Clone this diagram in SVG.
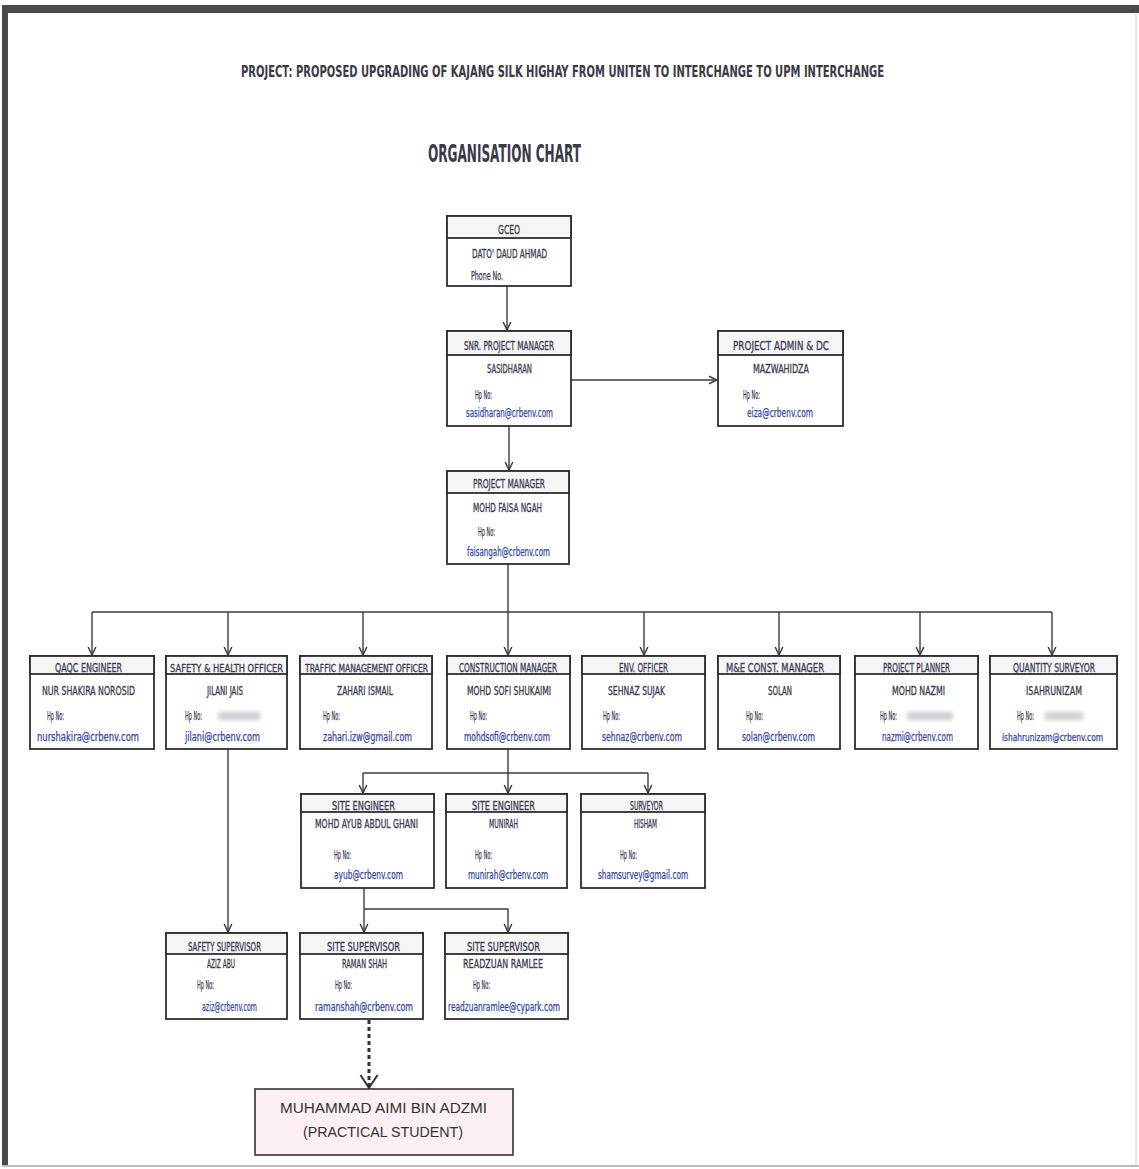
<svg xmlns="http://www.w3.org/2000/svg" width="1139" height="1169" viewBox="0 0 1139 1169">
<defs>
<style>
.box{fill:#ffffff;stroke:#2e2e2e;stroke-width:1.8}
.hd{fill:#f5f5f6;stroke:#2e2e2e;stroke-width:1.8}
text{font-family:"Liberation Sans Narrow","DejaVu Sans Condensed","Liberation Sans",Arial,sans-serif}
.h{font-size:12px;fill:#3b3b52;stroke:#3b3b52;stroke-width:0.3}
.n{font-size:12px;fill:#3b3b52;stroke:#3b3b52;stroke-width:0.3}
.p{font-size:11.5px;fill:#3b3b52;stroke:#3b3b52;stroke-width:0.25}
.e{font-size:11.5px;fill:#3648a4;stroke:#3648a4;stroke-width:0.25}
.ln{fill:none;stroke:#3c3c3c;stroke-width:1.4}
.blob{fill:#cfcfd4;filter:url(#bl)}
</style>
<marker id="ah" markerWidth="10" markerHeight="10" refX="9" refY="5" orient="auto" markerUnits="userSpaceOnUse" viewBox="0 0 10 10">
<path d="M1,1.2 L9,5 L1,8.8" fill="none" stroke="#3c3c3c" stroke-width="1.5"/>
</marker>
<marker id="ah2" markerWidth="16" markerHeight="20" refX="14" refY="10" orient="auto" markerUnits="userSpaceOnUse" viewBox="0 0 16 20">
<path d="M1,1.5 L14,10 L1,18.5" fill="none" stroke="#333" stroke-width="2"/>
</marker>
<filter id="bl" x="-20%" y="-50%" width="140%" height="200%"><feGaussianBlur stdDeviation="2"/></filter>
</defs>

<rect x="0" y="0" width="1139" height="1169" fill="#ffffff"/>
<rect x="2" y="5" width="1137" height="8" fill="#4a4a4c"/>
<rect x="2" y="5" width="6" height="1162" fill="#4a4a4c"/>
<line x1="1136" y1="13" x2="1136" y2="1166" stroke="#e2e2e2" stroke-width="1.5"/>
<line x1="2" y1="1166" x2="1139" y2="1166" stroke="#bdbdbd" stroke-width="2"/>

<text transform="translate(241,77) scale(1,1.45)" font-size="11.5" font-weight="bold" fill="#3a3a48" textLength="643" lengthAdjust="spacingAndGlyphs">PROJECT: PROPOSED UPGRADING OF KAJANG SILK HIGHAY FROM UNITEN TO INTERCHANGE TO UPM INTERCHANGE</text>
<text transform="translate(428,162) scale(1,1.5)" font-size="16" font-weight="bold" fill="#3a3a48" textLength="153" lengthAdjust="spacingAndGlyphs">ORGANISATION CHART</text>

<g id="connectors">
<line class="ln" x1="507" y1="286" x2="507" y2="330" marker-end="url(#ah)"/>
<line class="ln" x1="571" y1="380" x2="717" y2="380" marker-end="url(#ah)"/>
<line class="ln" x1="509" y1="426" x2="509" y2="470" marker-end="url(#ah)"/>
<line class="ln" x1="508" y1="564" x2="508" y2="655" marker-end="url(#ah)"/>
<line class="ln" x1="92" y1="612" x2="1052" y2="612"/>
<line class="ln" x1="92" y1="612" x2="92" y2="655" marker-end="url(#ah)"/>
<line class="ln" x1="228" y1="612" x2="228" y2="655" marker-end="url(#ah)"/>
<line class="ln" x1="363" y1="612" x2="363" y2="655" marker-end="url(#ah)"/>
<line class="ln" x1="644" y1="612" x2="644" y2="655" marker-end="url(#ah)"/>
<line class="ln" x1="779" y1="612" x2="779" y2="655" marker-end="url(#ah)"/>
<line class="ln" x1="920" y1="612" x2="920" y2="655" marker-end="url(#ah)"/>
<line class="ln" x1="1052" y1="612" x2="1052" y2="655" marker-end="url(#ah)"/>
<line class="ln" x1="508" y1="749" x2="508" y2="793" marker-end="url(#ah)"/>
<line class="ln" x1="363" y1="773" x2="648" y2="773"/>
<line class="ln" x1="363" y1="773" x2="363" y2="793" marker-end="url(#ah)"/>
<line class="ln" x1="648" y1="773" x2="648" y2="793" marker-end="url(#ah)"/>
<line class="ln" x1="228" y1="749" x2="228" y2="932" marker-end="url(#ah)"/>
<line class="ln" x1="364" y1="888" x2="364" y2="932" marker-end="url(#ah)"/>
<polyline class="ln" points="364,909 508,909 508,932" marker-end="url(#ah)"/>
<line x1="369" y1="1020" x2="369" y2="1088" stroke="#333" stroke-width="3" stroke-dasharray="4,3" marker-end="url(#ah2)"/>
</g>

<g id="gceo">
<rect class="box" x="447" y="216" width="124" height="70"/>
<rect class="hd" x="447" y="216" width="124" height="22"/>
<text class="h" x="498" y="234" textLength="22" lengthAdjust="spacingAndGlyphs">GCEO</text>
<text class="n" x="472" y="258" textLength="75" lengthAdjust="spacingAndGlyphs">DATO' DAUD AHMAD</text>
<text class="p" x="471" y="280" textLength="32" lengthAdjust="spacingAndGlyphs">Phone No.</text>
</g>

<g id="snr-pm">
<rect class="box" x="447" y="331" width="124" height="95"/>
<rect class="hd" x="447" y="331" width="124" height="24"/>
<text class="h" x="464" y="350" textLength="90" lengthAdjust="spacingAndGlyphs">SNR. PROJECT MANAGER</text>
<text class="n" x="487" y="373" textLength="45" lengthAdjust="spacingAndGlyphs">SASIDHARAN</text>
<text class="p" x="475" y="399" textLength="17" lengthAdjust="spacingAndGlyphs">Hp No:</text>
<text class="e" x="466" y="417" textLength="87" lengthAdjust="spacingAndGlyphs">sasidharan@crbenv.com</text>
</g>

<g id="admin">
<rect class="box" x="718" y="331" width="125" height="95"/>
<rect class="hd" x="718" y="331" width="125" height="24"/>
<text class="h" x="733" y="350" textLength="96" lengthAdjust="spacingAndGlyphs">PROJECT ADMIN &amp; DC</text>
<text class="n" x="753" y="373" textLength="56" lengthAdjust="spacingAndGlyphs">MAZWAHIDZA</text>
<text class="p" x="743" y="399" textLength="17" lengthAdjust="spacingAndGlyphs">Hp No:</text>
<text class="e" x="747" y="417" textLength="66" lengthAdjust="spacingAndGlyphs">eiza@crbenv.com</text>
</g>

<g id="pm">
<rect class="box" x="447" y="471" width="122" height="93"/>
<rect class="hd" x="447" y="471" width="122" height="22"/>
<text class="h" x="473" y="488" textLength="72" lengthAdjust="spacingAndGlyphs">PROJECT MANAGER</text>
<text class="n" x="473" y="512" textLength="69" lengthAdjust="spacingAndGlyphs">MOHD FAISA NGAH</text>
<text class="p" x="478" y="536" textLength="17" lengthAdjust="spacingAndGlyphs">Hp No:</text>
<text class="e" x="467" y="556" textLength="83" lengthAdjust="spacingAndGlyphs">faisangah@crbenv.com</text>
</g>

<g id="qaqc">
<rect class="box" x="30" y="656" width="124" height="93"/>
<rect class="hd" x="30" y="656" width="124" height="18"/>
<text class="h" x="55" y="672" textLength="67" lengthAdjust="spacingAndGlyphs">QAQC ENGINEER</text>
<text class="n" x="42" y="695" textLength="93" lengthAdjust="spacingAndGlyphs">NUR SHAKIRA NOROSID</text>
<text class="p" x="47" y="720" textLength="17" lengthAdjust="spacingAndGlyphs">Hp No:</text>
<text class="e" x="37" y="741" textLength="102" lengthAdjust="spacingAndGlyphs">nurshakira@crbenv.com</text>
</g>

<g id="safety-officer">
<rect class="box" x="166" y="656" width="121" height="93"/>
<rect class="hd" x="166" y="656" width="121" height="18"/>
<text class="h" x="170" y="672" style="font-size:11px" textLength="113" lengthAdjust="spacingAndGlyphs">SAFETY &amp; HEALTH OFFICER</text>
<text class="n" x="207" y="695" textLength="36" lengthAdjust="spacingAndGlyphs">JILANI JAIS</text>
<text class="p" x="185" y="720" textLength="17" lengthAdjust="spacingAndGlyphs">Hp No:</text>
<rect class="blob" x="218" y="712" width="42" height="8"/>
<text class="e" x="185" y="741" textLength="75" lengthAdjust="spacingAndGlyphs">jilani@crbenv.com</text>
</g>

<g id="traffic">
<rect class="box" x="300" y="656" width="132" height="93"/>
<rect class="hd" x="300" y="656" width="132" height="18"/>
<text class="h" x="305" y="672" style="font-size:10.5px" textLength="123" lengthAdjust="spacingAndGlyphs">TRAFFIC MANAGEMENT OFFICER</text>
<text class="n" x="337" y="695" textLength="56" lengthAdjust="spacingAndGlyphs">ZAHARI ISMAIL</text>
<text class="p" x="323" y="720" textLength="17" lengthAdjust="spacingAndGlyphs">Hp No:</text>
<text class="e" x="323" y="741" textLength="89" lengthAdjust="spacingAndGlyphs">zahari.izw@gmail.com</text>
</g>

<g id="construction">
<rect class="box" x="447" y="656" width="123" height="93"/>
<rect class="hd" x="447" y="656" width="123" height="18"/>
<text class="h" x="459" y="672" textLength="98" lengthAdjust="spacingAndGlyphs">CONSTRUCTION MANAGER</text>
<text class="n" x="467" y="695" textLength="84" lengthAdjust="spacingAndGlyphs">MOHD SOFI SHUKAIMI</text>
<text class="p" x="470" y="720" textLength="17" lengthAdjust="spacingAndGlyphs">Hp No:</text>
<text class="e" x="464" y="741" textLength="86" lengthAdjust="spacingAndGlyphs">mohdsofi@crbenv.com</text>
</g>

<g id="env">
<rect class="box" x="582" y="656" width="123" height="93"/>
<rect class="hd" x="582" y="656" width="123" height="18"/>
<text class="h" x="619" y="672" textLength="49" lengthAdjust="spacingAndGlyphs">ENV. OFFICER</text>
<text class="n" x="608" y="695" textLength="57" lengthAdjust="spacingAndGlyphs">SEHNAZ SUJAK</text>
<text class="p" x="603" y="720" textLength="17" lengthAdjust="spacingAndGlyphs">Hp No:</text>
<text class="e" x="602" y="741" textLength="80" lengthAdjust="spacingAndGlyphs">sehnaz@crbenv.com</text>
</g>

<g id="me">
<rect class="box" x="718" y="656" width="122" height="93"/>
<rect class="hd" x="718" y="656" width="122" height="18"/>
<text class="h" x="726" y="672" textLength="98" lengthAdjust="spacingAndGlyphs">M&amp;E CONST. MANAGER</text>
<text class="n" x="768" y="695" textLength="24" lengthAdjust="spacingAndGlyphs">SOLAN</text>
<text class="p" x="746" y="720" textLength="17" lengthAdjust="spacingAndGlyphs">Hp No:</text>
<text class="e" x="742" y="741" textLength="73" lengthAdjust="spacingAndGlyphs">solan@crbenv.com</text>
</g>

<g id="planner">
<rect class="box" x="855" y="656" width="123" height="93"/>
<rect class="hd" x="855" y="656" width="123" height="18"/>
<text class="h" x="883" y="672" textLength="67" lengthAdjust="spacingAndGlyphs">PROJECT PLANNER</text>
<text class="n" x="892" y="695" textLength="53" lengthAdjust="spacingAndGlyphs">MOHD NAZMI</text>
<text class="p" x="880" y="720" textLength="17" lengthAdjust="spacingAndGlyphs">Hp No:</text>
<rect class="blob" x="907" y="712" width="46" height="8"/>
<text class="e" x="882" y="741" textLength="71" lengthAdjust="spacingAndGlyphs">nazmi@crbenv.com</text>
</g>

<g id="qs">
<rect class="box" x="990" y="656" width="127" height="93"/>
<rect class="hd" x="990" y="656" width="127" height="18"/>
<text class="h" x="1013" y="672" textLength="82" lengthAdjust="spacingAndGlyphs">QUANTITY SURVEYOR</text>
<text class="n" x="1026" y="695" textLength="56" lengthAdjust="spacingAndGlyphs">ISAHRUNIZAM</text>
<text class="p" x="1017" y="720" textLength="17" lengthAdjust="spacingAndGlyphs">Hp No:</text>
<rect class="blob" x="1045" y="712" width="38" height="8"/>
<text class="e" x="1002" y="741" style="font-size:10.5px" textLength="101" lengthAdjust="spacingAndGlyphs">ishahrunizam@crbenv.com</text>
</g>

<g id="site-engineer-1">
<rect class="box" x="301" y="794" width="133" height="94"/>
<rect class="hd" x="301" y="794" width="133" height="18"/>
<text class="h" x="332" y="810" textLength="63" lengthAdjust="spacingAndGlyphs">SITE ENGINEER</text>
<text class="n" x="315" y="828" textLength="103" lengthAdjust="spacingAndGlyphs">MOHD AYUB ABDUL GHANI</text>
<text class="p" x="334" y="859" textLength="17" lengthAdjust="spacingAndGlyphs">Hp No:</text>
<text class="e" x="334" y="879" textLength="69" lengthAdjust="spacingAndGlyphs">ayub@crbenv.com</text>
</g>

<g id="site-engineer-2">
<rect class="box" x="446" y="794" width="121" height="94"/>
<rect class="hd" x="446" y="794" width="121" height="18"/>
<text class="h" x="472" y="810" textLength="63" lengthAdjust="spacingAndGlyphs">SITE ENGINEER</text>
<text class="n" x="489" y="828" textLength="29" lengthAdjust="spacingAndGlyphs">MUNIRAH</text>
<text class="p" x="475" y="859" textLength="17" lengthAdjust="spacingAndGlyphs">Hp No:</text>
<text class="e" x="468" y="879" textLength="80" lengthAdjust="spacingAndGlyphs">munirah@crbenv.com</text>
</g>

<g id="surveyor">
<rect class="box" x="581" y="794" width="124" height="94"/>
<rect class="hd" x="581" y="794" width="124" height="18"/>
<text class="h" x="630" y="810" textLength="33" lengthAdjust="spacingAndGlyphs">SURVEYOR</text>
<text class="n" x="634" y="828" textLength="23" lengthAdjust="spacingAndGlyphs">HISHAM</text>
<text class="p" x="620" y="859" textLength="17" lengthAdjust="spacingAndGlyphs">Hp No:</text>
<text class="e" x="598" y="879" textLength="90" lengthAdjust="spacingAndGlyphs">shamsurvey@gmail.com</text>
</g>

<g id="safety-supervisor">
<rect class="box" x="166" y="933" width="121" height="86"/>
<rect class="hd" x="166" y="933" width="121" height="21"/>
<text class="h" x="188" y="951" textLength="73" lengthAdjust="spacingAndGlyphs">SAFETY SUPERVISOR</text>
<text class="n" x="207" y="968" textLength="28" lengthAdjust="spacingAndGlyphs">AZIZ ABU</text>
<text class="p" x="197" y="989" textLength="17" lengthAdjust="spacingAndGlyphs">Hp No:</text>
<text class="e" x="202" y="1011" textLength="55" lengthAdjust="spacingAndGlyphs">aziz@crbenv.com</text>
</g>

<g id="site-supervisor-1">
<rect class="box" x="300" y="933" width="123" height="86"/>
<rect class="hd" x="300" y="933" width="123" height="21"/>
<text class="h" x="327" y="951" textLength="73" lengthAdjust="spacingAndGlyphs">SITE SUPERVISOR</text>
<text class="n" x="342" y="968" textLength="45" lengthAdjust="spacingAndGlyphs">RAMAN SHAH</text>
<text class="p" x="335" y="989" textLength="17" lengthAdjust="spacingAndGlyphs">Hp No:</text>
<text class="e" x="315" y="1011" textLength="98" lengthAdjust="spacingAndGlyphs">ramanshah@crbenv.com</text>
</g>

<g id="site-supervisor-2">
<rect class="box" x="445" y="933" width="123" height="86"/>
<rect class="hd" x="445" y="933" width="123" height="21"/>
<text class="h" x="467" y="951" textLength="73" lengthAdjust="spacingAndGlyphs">SITE SUPERVISOR</text>
<text class="n" x="463" y="968" textLength="80" lengthAdjust="spacingAndGlyphs">READZUAN RAMLEE</text>
<text class="p" x="473" y="989" textLength="17" lengthAdjust="spacingAndGlyphs">Hp No:</text>
<text class="e" x="448" y="1011" textLength="112" lengthAdjust="spacingAndGlyphs">readzuanramlee@cypark.com</text>
</g>

<g id="student">
<rect x="255" y="1089" width="258" height="66" fill="#fcf0f4" stroke="#333" stroke-width="1.6"/>
<text x="280" y="1113" font-size="14" fill="#333" style="font-family:'Liberation Sans',Arial,sans-serif;stroke:none" textLength="207" lengthAdjust="spacingAndGlyphs">MUHAMMAD AIMI BIN ADZMI</text>
<text x="303" y="1137" font-size="14" fill="#333" style="font-family:'Liberation Sans',Arial,sans-serif;stroke:none" textLength="160" lengthAdjust="spacingAndGlyphs">(PRACTICAL STUDENT)</text>
</g>
</svg>
